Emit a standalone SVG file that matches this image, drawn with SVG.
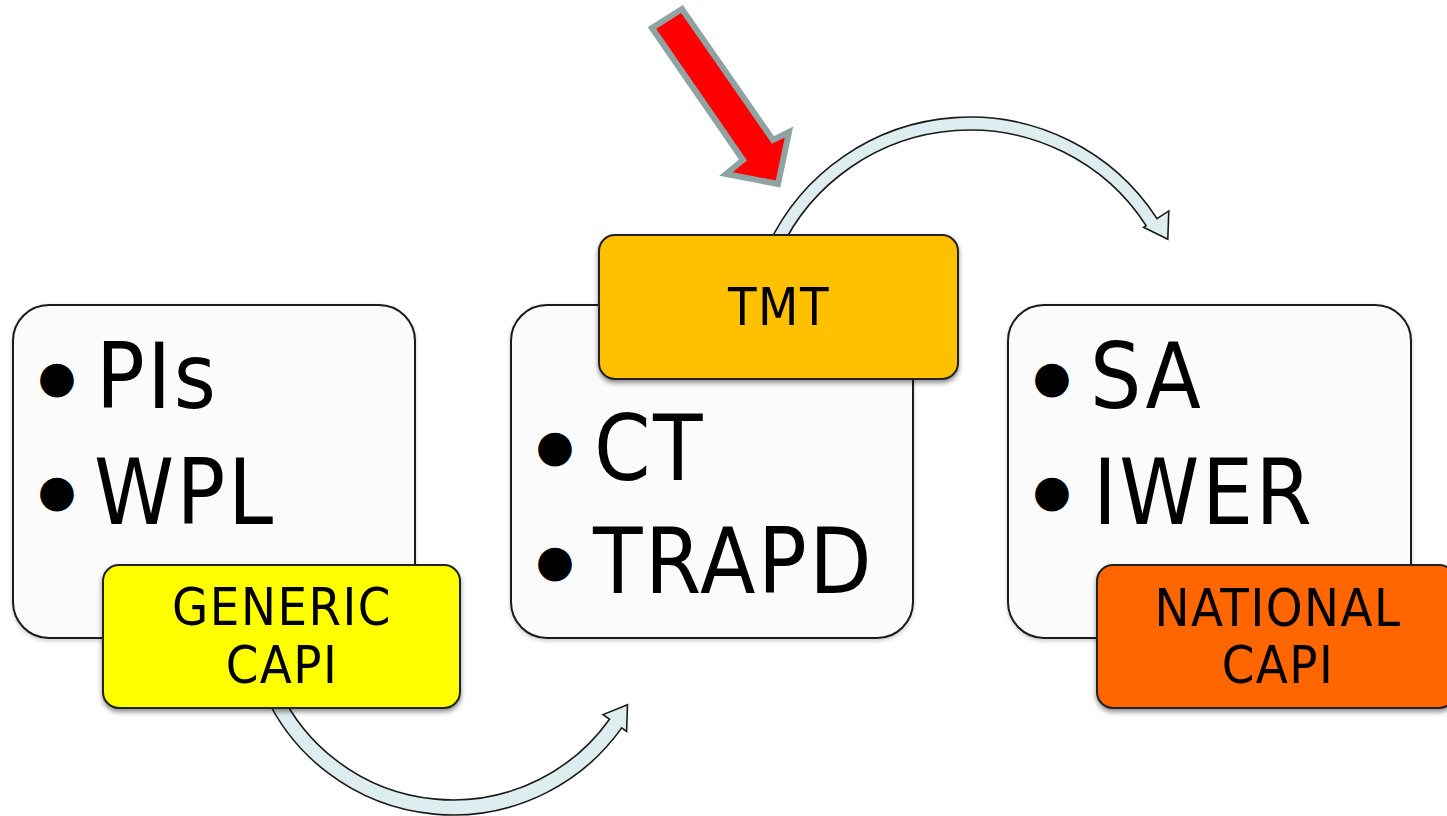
<svg xmlns="http://www.w3.org/2000/svg" width="1447" height="816" viewBox="0 0 1447 816">
<defs>
<filter id="sh" x="-10%" y="-10%" width="120%" height="130%">
<feGaussianBlur in="SourceAlpha" stdDeviation="2.5"/>
<feOffset dx="0" dy="3" result="b"/>
<feComponentTransfer><feFuncA type="linear" slope="0.45"/></feComponentTransfer>
<feMerge><feMergeNode/><feMergeNode in="SourceGraphic"/></feMerge>
</filter>
<filter id="sh2" x="-10%" y="-10%" width="120%" height="130%">
<feGaussianBlur in="SourceAlpha" stdDeviation="2"/>
<feOffset dx="0" dy="2" result="b"/>
<feComponentTransfer><feFuncA type="linear" slope="0.2"/></feComponentTransfer>
<feMerge><feMergeNode/><feMergeNode in="SourceGraphic"/></feMerge>
</filter>
<filter id="glow" x="-50%" y="-5%" width="200%" height="110%"><feGaussianBlur stdDeviation="0.8"/></filter>
</defs>
<style>
.big{fill:#fbfbfb;stroke:#1a1a1a;stroke-width:2}
.lbl{stroke:#222;stroke-width:2}
.hl{stroke-width:4;stroke-linecap:round;opacity:0.85}
.t{font-family:'DejaVu Sans Condensed','DejaVu Sans',sans-serif;font-stretch:condensed;fill:#000}
.bt{font-size:90px;letter-spacing:2.5px}
.lt{font-size:52px;letter-spacing:1.5px;text-anchor:middle}
.bul{font-family:'DejaVu Sans',sans-serif;font-size:44px;text-anchor:middle;fill:#000}
.arc{fill:#deedef;stroke:#1a1a1a;stroke-width:1.6;stroke-linejoin:miter}
</style>
<rect width="1447" height="816" fill="#ffffff"/>

<g id="box1">
<rect class="big" x="13" y="305" width="402" height="333" rx="36" filter="url(#sh2)"/>
<text class="bul" x="57" y="392">●</text>
<text class="t bt" x="96" y="408">PIs</text>
<text class="bul" x="57" y="506">●</text>
<text class="t bt" x="94" y="524">WPL</text>
</g>

<g id="box2">
<rect class="big" x="511" y="305" width="402" height="333" rx="36" filter="url(#sh2)"/>
<text class="bul" x="555" y="461">●</text>
<text class="t bt" x="594" y="480">CT</text>
<text class="bul" x="555" y="576">●</text>
<text class="t bt" x="593" y="593">TRAPD</text>
</g>

<g id="box3">
<rect class="big" x="1008" y="305" width="403" height="333" rx="36" filter="url(#sh2)"/>
<text class="bul" x="1052" y="392">●</text>
<text class="t bt" x="1090" y="408">SA</text>
<text class="bul" x="1052" y="506">●</text>
<text class="t bt" x="1093" y="524">IWER</text>
</g>

<g id="connectors">
<path class="arc" d="M 767.9 245.8 A 223 223 0 0 1 1157.0 218.6 L 1168.8 210.9 L 1167.8 239.2 L 1143.6 227.3 L 1146.1 225.6 A 210 210 0 0 0 779.7 251.3 Z"/>
<path class="arc" d="M 265.4 695.5 A 207 207 0 0 0 621.7 727.9 L 626.6 731.4 L 627.5 704.7 L 603.0 714.6 L 609.5 719.2 A 192 192 0 0 1 279.0 689.1 Z"/>
</g>

<g id="generic">
<rect class="lbl" x="103" y="565" width="357" height="143" rx="16" fill="#ffff00" filter="url(#sh)"/>
<line class="hl" x1="113" y1="580" x2="113" y2="693" stroke="#ffffb0" filter="url(#glow)"/>
<line class="hl" x1="450" y1="580" x2="450" y2="693" stroke="#ffffb0" filter="url(#glow)"/>
<text class="t lt" x="282" y="625">GENERIC</text>
<text class="t lt" x="282" y="683">CAPI</text>
</g>

<g id="tmt">
<rect class="lbl" x="599" y="235" width="359" height="144" rx="16" fill="#ffc000" filter="url(#sh)"/>
<line class="hl" x1="610" y1="252" x2="610" y2="363" stroke="#ffff80" filter="url(#glow)"/>
<line class="hl" x1="947" y1="252" x2="947" y2="363" stroke="#ffff80" filter="url(#glow)"/>
<text class="t lt" x="779" y="325">TMT</text>
</g>

<g id="national">
<rect class="lbl" x="1097" y="565" width="358" height="143" rx="16" fill="#ff6600" filter="url(#sh)"/>
<line class="hl" x1="1107" y1="580" x2="1107" y2="693" stroke="#ffd080" filter="url(#glow)"/>
<line class="hl" x1="1444" y1="580" x2="1444" y2="693" stroke="#ffd080" filter="url(#glow)"/>
<text class="t lt" x="1278" y="626">NATIONAL</text>
<text class="t lt" x="1278" y="683">CAPI</text>
</g>

<g id="red-arrow">
<polygon points="652,28 682,9 773,140 789,132 778,184 726,174 743,160" fill="#ff0000" stroke="#8fa3a3" stroke-width="6" stroke-linejoin="miter"/>
</g>
</svg>
